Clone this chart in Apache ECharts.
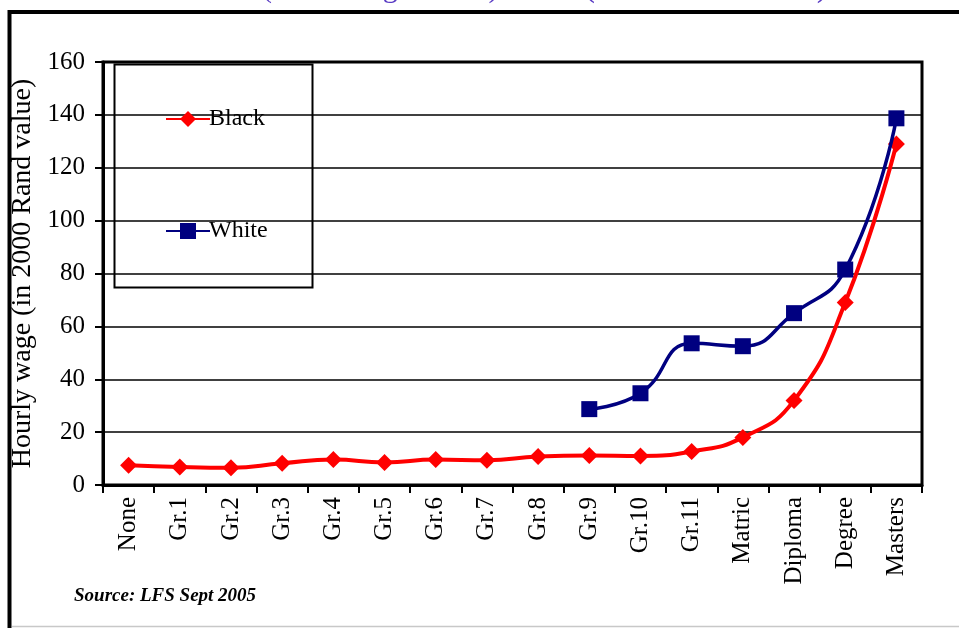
<!DOCTYPE html>
<html>
<head>
<meta charset="utf-8">
<script src="https://cdn.jsdelivr.net/npm/echarts@6/dist/echarts.min.js"></script>
<style>
  html, body { margin: 0; padding: 0; background: #fff; }
  #chart { width: 959px; height: 628px; }
</style>
</head>
<body>
<div id="chart"></div>
<script>
// Education levels along the horizontal axis
const levels = ['None', 'Gr.1', 'Gr.2', 'Gr.3', 'Gr.4', 'Gr.5', 'Gr.6', 'Gr.7', 'Gr.8',
  'Gr.9', 'Gr.10', 'Gr.11', 'Matric', 'Diploma', 'Degree', 'Masters'];

// Hourly wage (2000 Rand) by education level
const blackWage = [7.5, 6.8, 6.5, 8.2, 9.6, 8.5, 9.6, 9.4, 10.8, 11.2, 11.0, 12.7, 18.0, 32.0, 69.0, 129.0];
const whiteWage = [null, null, null, null, null, null, null, null, null,
  28.7, 34.7, 53.6, 52.5, 65.0, 81.5, 138.7];

const yTicks = { min: 0, max: 160, step: 20 };

const serif = '"Liberation Serif", "DejaVu Serif", serif';

const chart = echarts.init(document.getElementById('chart'));

chart.setOption({
  backgroundColor: '#ffffff',
  animation: false,
  grid: {
    left: 103, right: 37, top: 62, bottom: 143,
    show: true, borderColor: '#000', borderWidth: 3
  },
  legend: {
    orient: 'vertical',
    left: 160, top: 102,
    itemWidth: 44, itemHeight: 20,
    itemGap: 88,
    data: ['Black', 'White'],
    textStyle: { fontFamily: serif, fontSize: 24, color: '#000', padding: [0, 0, 0, -6] }
  },
  xAxis: {
    type: 'category',
    data: levels,
    boundaryGap: true,
    axisLine: { lineStyle: { color: '#000', width: 3 } },
    axisTick: { show: true, inside: false, length: 8, lineStyle: { color: '#000', width: 2 } },
    axisLabel: {
      rotate: 90, margin: 12, interval: 0,
      fontFamily: serif, fontSize: 25, color: '#000'
    }
  },
  yAxis: {
    type: 'value',
    min: yTicks.min, max: yTicks.max, interval: yTicks.step,
    name: 'Hourly wage (in 2000 Rand value)',
    nameLocation: 'middle',
    nameRotate: 90,
    nameGap: 66,
    nameTextStyle: { fontFamily: serif, fontSize: 28, color: '#000' },
    axisLine: { show: true, lineStyle: { color: '#000', width: 3 } },
    axisTick: { show: true, inside: false, length: 8, lineStyle: { color: '#000', width: 2 } },
    axisLabel: { margin: 18, fontFamily: serif, fontSize: 25, color: '#000' },
    splitLine: { show: true, lineStyle: { color: '#000', width: 1.5 } }
  },
  series: [
    {
      name: 'Black',
      type: 'line',
      data: blackWage,
      smooth: true,
      symbol: 'diamond',
      symbolSize: 17,
      itemStyle: { color: '#ff0000' },
      lineStyle: { color: '#ff0000', width: 4 },
      z: 3
    },
    {
      name: 'White',
      type: 'line',
      data: whiteWage,
      smooth: true,
      connectNulls: false,
      symbol: 'rect',
      symbolSize: 16,
      itemStyle: { color: '#000080' },
      lineStyle: { color: '#000080', width: 3.5 },
      z: 4
    }
  ],
  graphic: [
    // outer frame: heavy left and top edges, thin grey bottom edge
    {
      type: 'polyline', silent: true,
      shape: { points: [[9.5, 628], [9.5, 12], [959, 12]] },
      style: { stroke: '#000', lineWidth: 4, fill: null }
    },
    {
      type: 'line', silent: true,
      shape: { x1: 12, y1: 626.5, x2: 959, y2: 626.5 },
      style: { stroke: '#c8c8c8', lineWidth: 1.5 }
    },
    // legend box
    {
      type: 'rect', silent: true, z: -1,
      shape: { x: 114.5, y: 64.5, width: 198, height: 223 },
      style: { fill: '#fff', stroke: '#000', lineWidth: 2 }
    },
    // title, mostly above the visible area
    {
      type: 'text', silent: true,
      x: 262, y: 4,
      style: {
        text: '(Mean wage levels)',
        fontFamily: serif, fontSize: 30, fill: '#5a3cc4',
        textVerticalAlign: 'bottom'
      }
    },
    {
      type: 'text', silent: true,
      x: 584, y: 4,
      style: {
        text: '(Black and White)',
        fontFamily: serif, fontSize: 33, fill: '#5a3cc4',
        textVerticalAlign: 'bottom'
      }
    },
    // source note
    {
      type: 'text', silent: true,
      x: 74, y: 596,
      style: {
        text: 'Source: LFS Sept 2005',
        fontFamily: serif, fontSize: 19, fontStyle: 'italic', fontWeight: 'bold',
        fill: '#000', textVerticalAlign: 'middle'
      }
    }
  ]
});
</script>
</body>
</html>
